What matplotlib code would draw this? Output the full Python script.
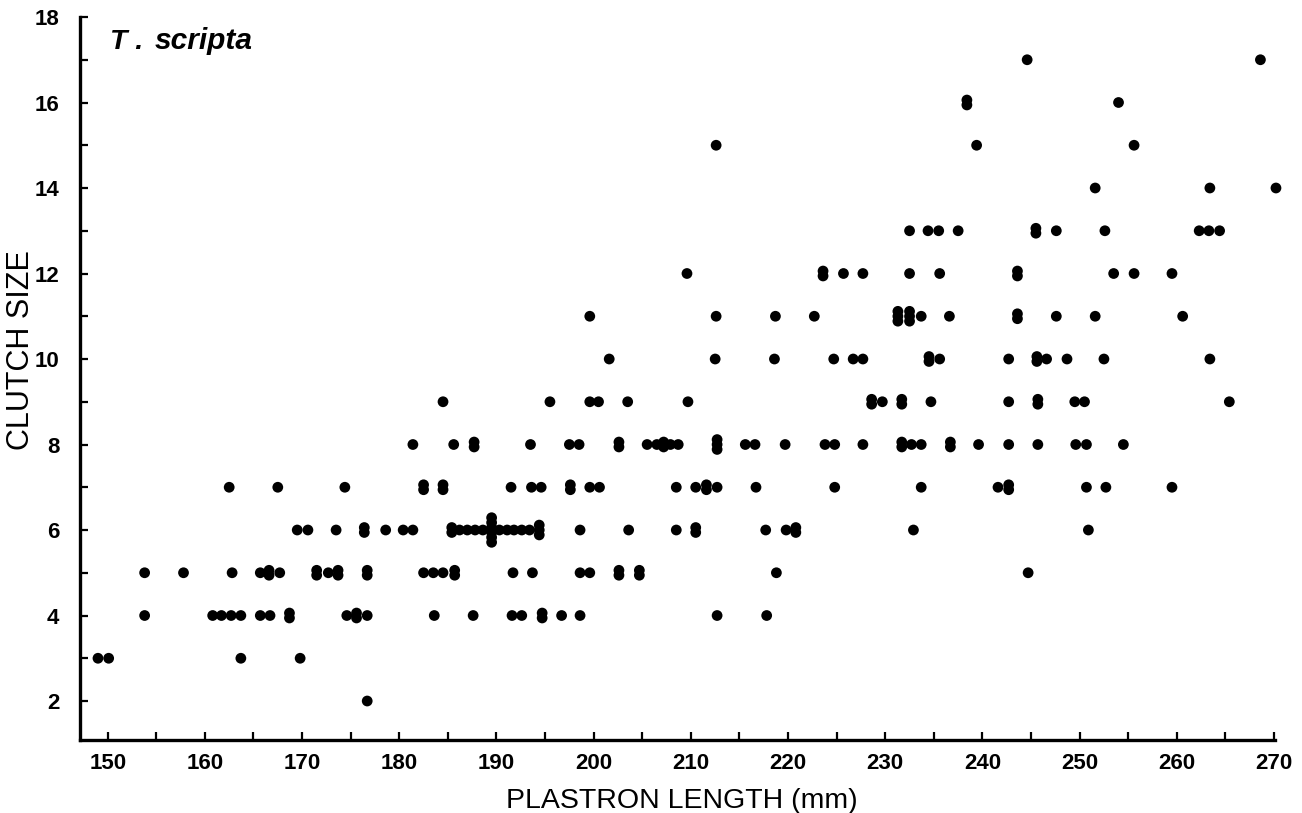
import matplotlib
matplotlib.use('Agg')
import matplotlib.pyplot as plt
from collections import Counter

plt.rcParams['font.family'] = ['Liberation Sans Narrow', 'Liberation Sans', 'DejaVu Sans']

# ---- data: plastron length (mm) of each female, grouped by clutch size ----
len_c2 = [176.7]
len_c3 = [149.0, 150.1, 163.7, 169.8]
len_c4 = [153.8, 160.8, 161.7, 162.7, 163.7, 165.7, 166.7, 168.7, 168.7, 174.6,
          175.6, 175.6, 176.7, 183.6, 187.6, 191.6, 192.6, 194.7, 194.7, 196.7,
          198.6, 212.7, 217.8]
len_c5 = [153.8, 157.8, 162.8, 165.7, 166.6, 166.6, 167.7, 171.5, 171.5, 172.7,
          173.7, 173.7, 176.7, 176.7, 182.5, 183.5, 184.5, 185.7, 185.7, 191.7,
          193.7, 198.6, 199.6, 202.6, 202.6, 204.7, 204.7, 218.8, 244.7]
len_c6 = [169.5, 170.6, 173.5, 176.4, 176.4, 178.6, 180.4, 181.4, 185.4, 185.4,
          186.2, 187.0, 187.8, 188.6, 189.5, 189.5, 189.5, 189.5, 189.5, 189.5,
          190.3, 191.1, 191.8, 192.6, 193.4, 194.4, 194.4, 194.4, 198.6, 203.6,
          208.5, 210.5, 210.5, 217.7, 219.8, 220.8, 220.8, 232.9, 250.9]
len_c7 = [162.5, 167.5, 174.4, 182.5, 182.5, 184.5, 184.5, 191.5, 193.6, 194.6,
          197.6, 197.6, 199.6, 200.6, 208.5, 210.5, 211.6, 211.6, 212.7, 216.7,
          224.8, 233.7, 241.6, 242.7, 242.7, 250.7, 252.7, 259.5]
len_c8 = [181.4, 185.6, 187.7, 187.7, 193.5, 197.5, 198.5, 202.6, 202.6, 205.5,
          206.5, 207.2, 207.2, 207.9, 208.7, 212.7, 212.7, 212.7, 215.6, 216.6,
          219.7, 223.8, 224.8, 227.7, 231.7, 231.7, 232.7, 233.7, 236.7, 236.7,
          239.6, 242.7, 245.7, 249.6, 250.7, 254.5]
len_c9 = [184.5, 195.5, 199.6, 200.5, 203.5, 209.7, 228.6, 228.6, 229.7, 231.7,
          231.7, 234.7, 242.7, 245.7, 245.7, 249.5, 250.5, 265.4]
len_c10 = [201.6, 212.5, 218.6, 224.7, 226.7, 227.7, 234.5, 234.5, 235.6, 242.7,
           245.6, 245.6, 246.6, 248.7, 252.5, 263.4]
len_c11 = [199.6, 212.6, 218.7, 222.7, 231.3, 231.3, 231.3, 232.5, 232.5, 232.5,
           233.7, 236.6, 243.6, 243.6, 247.6, 251.6, 260.6]
len_c12 = [209.6, 223.6, 223.6, 225.7, 227.7, 232.5, 235.6, 243.6, 243.6, 253.5,
           255.6, 259.5]
len_c13 = [232.5, 234.4, 235.5, 237.5, 245.5, 245.5, 247.6, 252.6, 262.3, 263.3,
           264.4]
len_c14 = [251.6, 263.4, 270.2]
len_c15 = [212.6, 239.4, 255.6]
len_c16 = [238.4, 238.4, 254.0]
len_c17 = [244.6, 268.6]

clutch_sizes = [2, 3, 4, 5, 6, 7, 8, 9, 10, 11, 12, 13, 14, 15, 16, 17]
lengths = [len_c2, len_c3, len_c4, len_c5, len_c6, len_c7, len_c8, len_c9,
           len_c10, len_c11, len_c12, len_c13, len_c14, len_c15, len_c16, len_c17]

x_ticks = list(range(150, 271, 10))
x_minor = list(range(155, 270, 10))
y_ticks = list(range(2, 19, 2))
y_minor = list(range(3, 18, 2))

# ---- build points; identical observations are stacked vertically ----
STACK = 0.115
xs, ys = [], []
for c, row in zip(clutch_sizes, lengths):
    for xv, n in Counter(row).items():
        for i in range(n):
            xs.append(xv)
            ys.append(c + (i - (n - 1) / 2) * STACK)

W, H = 1302, 813
fig = plt.figure(figsize=(W / 100, H / 100), dpi=100)
ax = fig.add_axes([80 / W, 73 / H, 1195 / W, 723 / H])

ax.scatter(xs, ys, s=60, c='black', edgecolors='none', clip_on=False, zorder=3)

ax.set_xlim(147.15, 270.1)
ax.set_ylim(1.088, 18)

for s in ('top', 'right'):
    ax.spines[s].set_visible(False)
for s in ('left', 'bottom'):
    ax.spines[s].set_linewidth(2.4)
    ax.spines[s].set_color('black')

ax.set_xticks(x_ticks)
ax.set_xticks(x_minor, minor=True)
ax.set_yticks(y_ticks)
ax.set_yticks(y_minor, minor=True)
ax.tick_params(which='both', direction='in', length=5.5, width=1.6, color='black')
ax.tick_params(axis='x', which='major', pad=9, labelsize=16)
ax.tick_params(axis='y', which='major', pad=15, labelsize=16)
for lab in ax.get_xticklabels() + ax.get_yticklabels():
    lab.set_fontweight('bold')

ax.set_xlabel('PLASTRON LENGTH (mm)', fontsize=20.5, family=['Liberation Sans', 'DejaVu Sans'])
ax.xaxis.set_label_coords(0.504, -0.066)
ax.set_ylabel('CLUTCH SIZE', fontsize=22, family=['Liberation Sans', 'DejaVu Sans'])
ax.yaxis.set_label_coords(-0.037, 0.54)

ax.text(0.025, 0.956, 'T .', transform=ax.transAxes, fontsize=20.5,
        fontstyle='italic', fontweight='bold', va='baseline', ha='left',
        family=['Liberation Sans', 'DejaVu Sans'])
ax.text(0.0628, 0.956, 'scripta', transform=ax.transAxes, fontsize=21.5,
        fontstyle='italic', fontweight='bold', va='baseline', ha='left',
        family=['Liberation Sans', 'DejaVu Sans'])

fig.savefig('out.png', dpi=100)
